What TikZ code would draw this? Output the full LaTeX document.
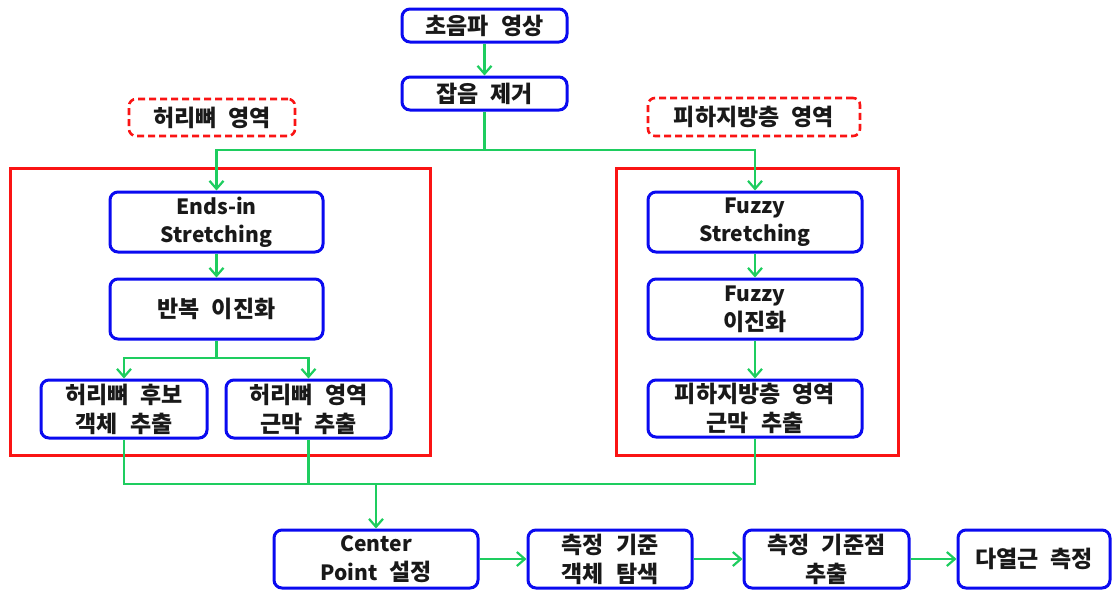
\documentclass[tikz,border=0pt]{standalone}
\usepackage{fontspec}
\setmainfont{Noto Sans CJK KR}[WordSpace=2.3]
\usetikzlibrary{arrows.meta}
\definecolor{bx}{RGB}{10,10,240}
\definecolor{rd}{RGB}{250,20,20}
\definecolor{gr}{RGB}{30,205,95}
\definecolor{tx}{RGB}{25,25,25}
\newcommand{\lat}[1]{{\fontsize{21}{28}\selectfont #1}}
\begin{document}
\begin{tikzpicture}[x=1pt,y=-1pt,
  proc/.style={draw=bx,line width=3pt,rounded corners=8pt,fill=white,inner sep=0pt,
    align=center,text=tx,font=\fontsize{23}{29}\selectfont\bfseries},
  tag/.style={draw=rd,line width=2.6pt,dash pattern=on 7pt off 4pt,rounded corners=7pt,
    inner sep=0pt,align=center,text=tx,font=\fontsize{23}{29}\selectfont\bfseries},
  region/.style={draw=rd,line width=3pt},
  flow/.style={draw=gr,line width=2.4pt,-{Straight Barb[length=8pt,width=14pt,line width=2.2pt]}},
  link/.style={draw=gr,line width=2.4pt}]
\useasboundingbox (0,0) rectangle (1118,590);
\fill[white] (0,0) rectangle (1118,590);
% regions
\draw[region] (10,168) rectangle (430,455);
\draw[region] (616,168) rectangle (898,455);
% nodes
\node[proc,minimum width=165pt,minimum height=33pt] (n1) at (484.5,25.5) {초음파 영상};
\node[proc,minimum width=165pt,minimum height=33pt] (n2) at (484.5,93.5) {잡음 제거};
\node[tag,minimum width=166pt,minimum height=37pt] (t1) at (212,117.5) {허리뼈 영역};
\node[tag,minimum width=212pt,minimum height=38pt] (t2) at (754,117) {피하지방층 영역};
\node[proc,minimum width=213pt,minimum height=60pt] (a1) at (216.5,222) {\lat{Ends-in}\\[-1pt]\lat{Stretching}};
\node[proc,minimum width=213pt,minimum height=60pt] (a2) at (216.5,309) {반복 이진화};
\node[proc,minimum width=166pt,minimum height=58pt] (a3) at (124,409) {허리뼈 후보\\객체 추출};
\node[proc,minimum width=165pt,minimum height=58pt] (a4) at (308.5,409) {허리뼈 영역\\근막 추출};
\node[proc,minimum width=214pt,minimum height=60pt] (b1) at (755,222) {\lat{Fuzzy}\\[-1pt]\lat{Stretching}};
\node[proc,minimum width=214pt,minimum height=60pt] (b2) at (755,309) {\lat{Fuzzy}\\이진화};
\node[proc,minimum width=214pt,minimum height=57pt] (b3) at (755,408.5) {피하지방층 영역\\근막 추출};
\node[proc,minimum width=204pt,minimum height=58pt] (c1) at (376,559) {\lat{Center}\\\lat{Point} 설정};
\node[proc,minimum width=164pt,minimum height=58pt] (c2) at (610,559) {측정 기준\\객체 탐색};
\node[proc,minimum width=165pt,minimum height=58pt] (c3) at (826.5,559) {측정 기준점\\추출};
\node[proc,minimum width=152pt,minimum height=58pt] (c4) at (1034,559) {다열근 측정};
% junctions
\coordinate (j1) at (484.5,150);
\coordinate (j2) at (216.5,358);
\coordinate (j3) at (376,484);
% connectors
\draw[flow] (n1) -- (n2);
\draw[link] (n2.south) -- (j1);
\draw[flow] (j1) -| (a1.north);
\draw[flow] (j1) -| (b1.north);
\draw[flow] (a1) -- (a2);
\draw[link] (a2.south) -- (j2);
\draw[flow] (j2) -| (a3.north);
\draw[flow] (j2) -| (a4.north);
\draw[flow] (b1) -- (b2);
\draw[flow] (b2) -- (b3);
\draw[link] (a3.south) |- (j3);
\draw[link] (a4.south) |- (j3);
\draw[link] (b3.south) |- (j3);
\draw[flow] (j3) -- (c1.north);
\draw[flow] (c1) -- (c2);
\draw[flow] (c2) -- (c3);
\draw[flow] (c3) -- (c4);
\end{tikzpicture}
\end{document}
